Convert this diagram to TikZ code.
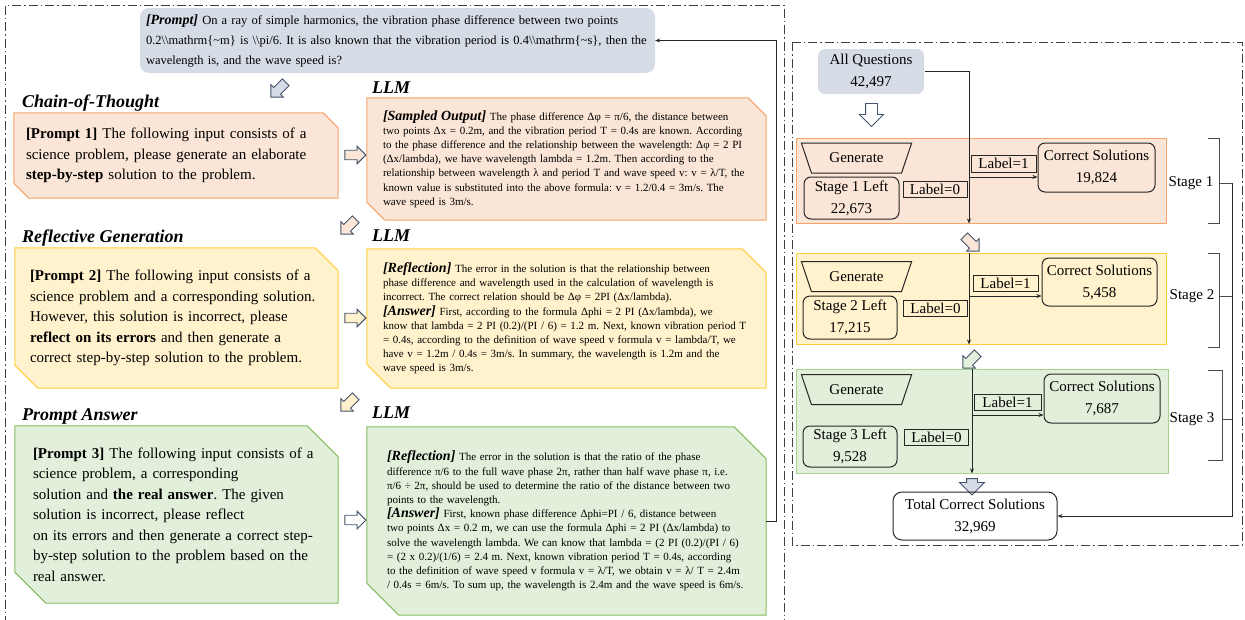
\documentclass[tikz,border=0pt]{standalone}
\usepackage{fontspec}
\setmainfont{Liberation Serif}
\usetikzlibrary{positioning, arrows.meta, shapes.geometric, shapes.arrows, backgrounds}
\frenchspacing

\definecolor{qgray}{HTML}{D6DCE5}
\definecolor{ofill}{HTML}{FBE5D6}
\definecolor{oline}{HTML}{F4A36B}
\definecolor{yfill}{HTML}{FFF2CC}
\definecolor{yline}{HTML}{FFCD3C}
\definecolor{gfill}{HTML}{E2EFDA}
\definecolor{gline}{HTML}{84BC62}
\definecolor{gline2}{HTML}{A9D18E}
\definecolor{arrline}{HTML}{44546A}

\newcommand{\hd}{\fontsize{18}{20}\selectfont\bfseries\itshape}
\newcommand{\tg}[1]{{\fontsize{14}{14}\selectfont\bfseries\itshape #1}}
\newcommand{\jl}[1]{\makebox[\hsize][s]{#1}}

\begin{document}
\begin{tikzpicture}[x=1pt, y=1pt,
  panel/.style={line width=1pt, draw=black!75, dash pattern=on 9pt off 3pt on 1.5pt off 3pt},
  head/.style={anchor=west, font=\hd, inner sep=0pt},
  ptext/.style={font=\fontsize{15}{20.5}\selectfont, align=left, inner ysep=0pt},
  otext/.style={font=\fontsize{11}{14.2}\selectfont, align=left, inner ysep=0pt},
  barr/.style={single arrow, draw=arrline, line width=0.9pt, minimum height=21pt,
    single arrow head extend=4pt, inner sep=4.3pt},
  sbox/.style={rectangle, line width=1pt, inner sep=0pt},
  rbox/.style={draw=black!85, line width=1pt, rounded corners=7pt, align=center,
    inner sep=0pt, font=\fontsize{15}{22}\selectfont},
  lbox/.style={draw=black!85, line width=1pt, inner sep=0pt, minimum width=64pt,
    minimum height=16pt, font=\fontsize{15}{15}\selectfont},
  gen/.style={trapezium, shape border rotate=180, trapezium angle=59, trapezium stretches=true,
    draw=black!85, line width=1pt, minimum width=111pt, minimum height=30pt,
    inner sep=0pt, font=\fontsize{15}{15}\selectfont},
  stg/.style={font=\fontsize{15}{15}\selectfont, inner sep=0pt},
  link/.style={line width=0.9pt, draw=black!85, -{Stealth[length=5pt, width=4pt]}},
  brace/.style={draw=black!70, line width=1pt}]

\useasboundingbox (0,0) rectangle (1245,-619);

% frames
\draw[panel] (5,-625) -- (5,-5) -- (784,-5) -- (784,-625);
\draw[panel] (792,-42) rectangle (1242,-545);

% question
\node[fill=qgray, rounded corners=9pt, minimum width=515pt, minimum height=65pt, text width=503pt,
  inner xsep=6pt, align=left, font=\fontsize{12.5}{20}\selectfont] (prompt) at (397.5,-40.5)
  {\tg{[Prompt]} On a ray of simple harmonics, the vibration phase difference between two points\\
   0.2\textbackslash\textbackslash mathrm\{\textasciitilde m\} is \textbackslash\textbackslash pi/6. It is also known that the vibration period is 0.4\textbackslash\textbackslash mathrm\{\textasciitilde s\}, then the\\
   wavelength is, and the wave speed is?};

\node[head] (cot) at (22,-103) {Chain-of-Thought};
\node[head] (refg) at (22,-238) {Reflective Generation};
\node[head] (pans) at (22,-416) {Prompt Answer};
\node[head] (llm1) at (372,-88) {LLM};
\node[head] (llm2) at (372,-236) {LLM};
\node[head] (llm3) at (372,-413) {LLM};

% prompts
\node[ptext, minimum width=324pt, minimum height=85pt, text width=300pt, inner xsep=12pt] (p1) at (176,-155.5)
  {\textbf{[Prompt 1]} The following input consists of a\\
   science problem, please generate an elaborate\\
   \textbf{step-by-step} solution to the problem.};
\node[ptext, minimum width=323pt, minimum height=140pt, text width=293pt, inner xsep=15pt] (p2) at (176.5,-318)
  {\textbf{[Prompt 2]} The following input consists of a\\
   science problem and a corresponding solution.\\
   However, this solution is incorrect, please\\
   \textbf{reflect on its errors} and then generate a\\
   correct step-by-step solution to the problem.};
\node[ptext, minimum width=323pt, minimum height=177pt, text width=287pt, inner xsep=18pt] (p3) at (176.5,-514.5)
  {\textbf{[Prompt 3]} The following input consists of a\\
   science problem, a corresponding\\
   solution and \textbf{the real answer}. The given\\
   solution is incorrect, please reflect\\
   on its errors and then generate a correct step-\\
   by-step solution to the problem based on the\\
   real answer.};

% outputs
\node[otext, minimum width=399pt, minimum height=122pt, text width=367pt, inner xsep=16pt] (o1) at (566.5,-159)
  {\jl{\tg{[Sampled Output]} The phase difference Δφ = π/6, the distance between}\\
   two points Δx = 0.2m, and the vibration period T = 0.4s are known. According\\
   to the phase difference and the relationship between the wavelength: Δφ = 2 PI\\
   (Δx/lambda), we have wavelength lambda = 1.2m. Then according to the\\
   relationship between wavelength λ and period T and wave speed v: v = λ/T, the\\
   known value is substituted into the above formula: v = 1.2/0.4 = 3m/s. The\\
   wave speed is 3m/s.};
\node[otext, minimum width=399pt, minimum height=139pt, text width=367pt, inner xsep=16pt] (o2) at (566.5,-318.5)
  {\tg{[Reflection]} The error in the solution is that the relationship between\\
   phase difference and wavelength used in the calculation of wavelength is\\
   incorrect. The correct relation should be Δφ = 2PI (Δx/lambda).\\
   \tg{[Answer]} First, according to the formula Δphi = 2 PI (Δx/lambda), we\\
   know that lambda = 2 PI (0.2)/(PI / 6) = 1.2 m. Next, known vibration period T\\
   = 0.4s, according to the definition of wave speed v formula v = lambda/T, we\\
   have v = 1.2m / 0.4s = 3m/s. In summary, the wavelength is 1.2m and the\\
   wave speed is 3m/s.};
\node[otext, minimum width=399pt, minimum height=188pt, text width=359pt, inner xsep=20pt] (o3) at (566.5,-521)
  {\tg{[Reflection]} The error in the solution is that the ratio of the phase\\
   difference π/6 to the full wave phase 2π, rather than half wave phase π, i.e.\\
   π/6 ÷ 2π, should be used to determine the ratio of the distance between two\\
   points to the wavelength.\\
   \jl{\tg{[Answer]} First, known phase difference Δphi=PI / 6, distance between}\\
   \jl{two points Δx = 0.2 m, we can use the formula Δphi = 2 PI (Δx/lambda) to}\\
   \jl{solve the wavelength lambda. We can know that lambda = (2 PI (0.2)/(PI / 6)}\\
   \jl{= (2 x 0.2)/(1/6) = 2.4 m. Next, known vibration period T = 0.4s, according}\\
   \jl{to the definition of wave speed v formula v = λ/T, we obtain v = λ/ T = 2.4m}\\
   / 0.4s = 6m/s. To sum up, the wavelength is 2.4m and the wave speed is 6m/s.};

\begin{scope}[on background layer]
  \foreach \n/\c/\f/\d in {p1/15/ofill/oline, o1/18/ofill/oline, p2/23/yfill/yline,
      o2/24/yfill/yline, p3/31/gfill/gline, o3/32/gfill/gline}
    \draw[fill=\f, draw=\d, line width=1pt] (\n.north west) -- ([xshift=-\c pt]\n.north east)
      -- ([yshift=-\c pt]\n.north east) -- (\n.south east) -- ([xshift=\c pt]\n.south west)
      -- ([yshift=\c pt]\n.south west) -- cycle;
\end{scope}

\node[barr, fill=qgray, rotate=225] (a0) at (280,-88) {};
\node[barr, fill=ofill] (r1) at (353,-155) {};
\node[barr, fill=ofill, rotate=225] (d1) at (350,-225) {};
\node[barr, fill=yfill] (r2) at (353,-318) {};
\node[barr, fill=yfill, rotate=225] (d2) at (350,-402) {};
\node[barr, fill=white] (r3) at (353,-520) {};

\draw[link] (o3.east) -- ++(10,0) |- (prompt.east);

% stages
\node[rbox, draw=none, fill=qgray, minimum width=106pt, minimum height=45pt] (allq) at (871,-71.5) {All Questions\\42,497};
\node[barr, fill=white, rotate=-90, minimum height=23pt, inner sep=5.5pt, single arrow head extend=6pt] (a1) at (871.5,-112) {};

\node[sbox, fill=ofill, draw=oline, minimum width=370pt, minimum height=85pt] (st1) at (981,-180.5) {};
\node[gen] (gen1) at (856.5,-158) {Generate};
\node[rbox, minimum width=95pt, minimum height=42pt] (left1) at (851.5,-198) {Stage 1 Left\\22,673};
\node[lbox] (lz1) at (935,-189.5) {Label=0};
\node[lbox, minimum width=65pt, minimum height=17pt] (lo1) at (1003.5,-163.5) {Label=1};
\node[rbox, minimum width=117pt, minimum height=49pt] (cs1) at (1096.5,-167.5) {Correct Solutions\\19,824};
\coordinate (c1) at (969,-177);
\draw[link] (allq.east) -| (c1 |- st1.south);
\draw[link] (c1) -- (c1 -| cs1.west);

\node[barr, fill=ofill, rotate=-45] (a2) at (970,-242) {};

\node[sbox, fill=yfill, draw=yline, minimum width=370pt, minimum height=91pt] (st2) at (981,-298.5) {};
\node[gen] (gen2) at (856.5,-276.5) {Generate};
\node[rbox, minimum width=94pt, minimum height=43pt] (left2) at (850,-317.5) {Stage 2 Left\\17,215};
\node[lbox] (lz2) at (935.5,-308.5) {Label=0};
\node[lbox, minimum width=65pt] (lo2) at (1005.5,-283) {Label=1};
\node[rbox, minimum width=115pt, minimum height=48pt] (cs2) at (1099.5,-282) {Correct Solutions\\5,458};
\coordinate (c2) at (969,-296);
\draw[link] (c2 |- st2.north) -- (c2 |- st2.south);
\draw[link] (c2) -- (c2 -| cs2.west);

\node[barr, fill=gfill, rotate=225] (a3) at (972,-359) {};

\node[sbox, fill=gfill, draw=gline2, minimum width=372pt, minimum height=104pt] (st3) at (982,-421) {};
\node[gen] (gen3) at (856.5,-389.5) {Generate};
\node[rbox, minimum width=94pt, minimum height=41pt] (left3) at (850,-446.5) {Stage 3 Left\\9,528};
\node[lbox] (lz3) at (936.5,-437) {Label=0};
\node[lbox, minimum width=67pt] (lo3) at (1007.5,-402) {Label=1};
\node[rbox, minimum width=116pt, minimum height=49pt] (cs3) at (1102,-398.5) {Correct Solutions\\7,687};
\coordinate (c3) at (972,-415);
\draw[link] (c3 |- st3.north) -- (c3 |- st3.south);
\draw[link] (c3) -- (c3 -| cs3.west);

\node[barr, fill=qgray, rotate=-90, minimum height=16pt, inner sep=5pt, single arrow head extend=7pt] (a4) at (972,-484) {};
\node[rbox, rounded corners=9pt, minimum width=164pt, minimum height=48pt] (tot) at (975,-516) {Total Correct Solutions\\32,969};

% brackets
\node[stg] (sl1) at (1191,-183) {Stage 1};
\node[stg] (sl2) at (1192,-296) {Stage 2};
\node[stg] (sl3) at (1192,-419) {Stage 3};
\draw[brace] (1208,-138) -- (1219,-138) -- (1219,-223) -- (1208,-223);
\draw[brace] (1208,-253) -- (1219,-253) -- (1219,-347) -- (1208,-347);
\draw[brace] (1208,-370) -- (1222,-370) -- (1222,-460) -- (1208,-460);
\coordinate (b1) at (1232,-183);
\draw[brace] (1219,-183) -- (b1);
\draw[brace] (1219,-296) -- (1232,-296);
\draw[brace] (1222,-419) -- (1232,-419);
\draw[link] (b1) |- (tot.east);
\end{tikzpicture}
\end{document}
